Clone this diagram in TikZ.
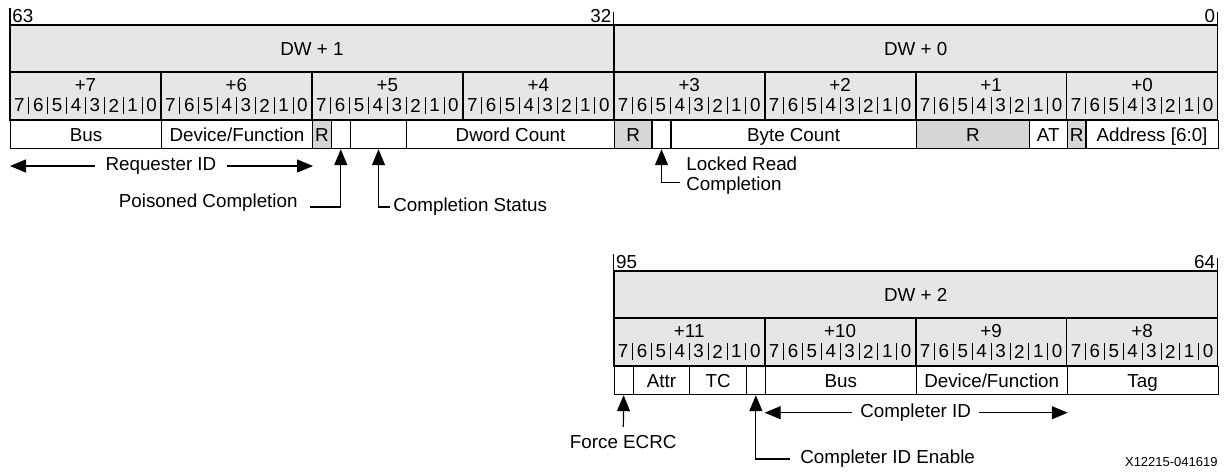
\documentclass[tikz,border=0pt]{standalone}
\usepackage{fontspec}
\setmainfont{Liberation Sans}
\usetikzlibrary{arrows.meta}

\definecolor{hdrgray}{HTML}{E6E6E6}
\definecolor{rsvgray}{HTML}{D6D6D6}
\newcommand{\bitx}[1]{(10+(63-(#1))*18.867)}
\newcommand{\bw}{9.4335pt}
\newcommand{\txtsize}{\fontsize{9.4}{10}\selectfont}

\begin{document}
\begin{tikzpicture}[x=0.5pt,y=-0.5pt,font=\txtsize,
    hdr/.style={draw,line width=0.9pt,fill=hdrgray},
    tick/.style={line width=0.6pt},
    bitsep/.style={line width=0.4pt},
    fld/.style={draw,line width=0.6pt,fill=white,anchor=north west,minimum height=14pt,inner sep=0pt,text height=6.7pt,text depth=0pt},
    rsv/.style={fld,fill=rsvgray},
    arr/.style={line width=0.6pt,-{Triangle[length=8pt,width=6.5pt]}}]
    \useasboundingbox (0,0) rectangle (1230,472);

    % Bit numbers on top
    \draw[tick] ({\bitx{63}},8) -- ({\bitx{63}},25);
    \draw[tick] ({\bitx{31}},12) -- ({\bitx{31}},25);
    \draw[tick] ({\bitx{-1}},12) -- ({\bitx{-1}},25);
    \node[anchor=south west,inner sep=1pt] (n63) at ({\bitx{63}},25) {63};
    \node[anchor=south east,inner sep=1pt] (n32) at ({\bitx{31}},25) {32};
    \node[anchor=south east,inner sep=1pt] (n0) at ({\bitx{-1}},25) {0};

    % DW + 1, DW + 0
    \draw[hdr] ({\bitx{63}},25) rectangle ({\bitx{31}},72);
    \draw[hdr] ({\bitx{31}},25) rectangle ({\bitx{-1}},72);
    \node (dw1) at ({\bitx{47}},49) {DW + 1};
    \node (dw0) at ({\bitx{15}},49) {DW + 0};

    % Bytes
    \foreach \k/\lab in {0/+7,1/+6,2/+5,3/+4,4/+3,5/+2,6/+1,7/+0}{
        \draw[hdr] ({10+8*\k*18.867},72) rectangle ({10+8*(\k+1)*18.867},120);
        \node (byte\k) at ({10+(8*\k+4)*18.867},85) {\lab};
        \foreach \j in {1,...,7}
            \draw[bitsep] ({10+(8*\k+\j)*18.867},97) -- ++(0,17);
        \foreach \j in {0,...,7}
            \node (bit\k-\j) at ({10+(8*\k+\j+0.5)*18.867},105.5) {\the\numexpr7-\j\relax};
    }

    % Fields
    \node[fld,minimum width=8*\bw] (bus) at ({\bitx{63}},120) {Bus};
    \node[fld,minimum width=8*\bw] (devfn) at ({\bitx{55}},120) {Device/Function};
    \node[rsv,minimum width=\bw] (rsv47) at ({\bitx{47}},120) {R};
    \node[fld,minimum width=\bw] (poison) at ({\bitx{46}},120) {};
    \node[fld,minimum width=3*\bw] (cplstat) at ({\bitx{45}},120) {};
    \node[fld,minimum width=11*\bw] (dwcnt) at ({\bitx{42}},120) {Dword Count};
    \node[rsv,minimum width=2*\bw] (rsv31) at ({\bitx{31}},120) {R};
    \node[fld,minimum width=\bw] (locked) at ({\bitx{29}},120) {};
    \node[fld,minimum width=13*\bw] (bytecnt) at ({\bitx{28}},120) {Byte Count};
    \node[rsv,minimum width=6*\bw] (rsv15) at ({\bitx{15}},120) {R};
    \node[fld,minimum width=2*\bw] (atfld) at ({\bitx{9}},120) {AT};
    \node[rsv,minimum width=\bw] (rsv7) at ({\bitx{7}},120) {R};
    \node[fld,minimum width=7*\bw] (addr) at ({\bitx{6}},120) {Address [6:0]};

    % Labels
    \node[inner sep=5pt] (reqid) at ({\bitx{55}},166) {Requester ID};
    \draw[arr] (reqid.west) -- (reqid.west -| bus.south west);
    \draw[arr] (reqid.east) -- (reqid.east -| devfn.south east);

    \node[anchor=base east,inner sep=0pt] (poislab) at (298,207) {Poisoned Completion};
    \draw[arr] ([xshift=6pt]poislab.base east) -| (poison.south);

    \node[anchor=west,inner sep=1.5pt] (cslab) at (390,207) {Completion Status};
    \draw[arr] (cslab.west) -| (cplstat.south);

    \node[anchor=north west,inner sep=3pt,align=left] (lrlab) at (680,150) {Locked Read\\Completion};
    \draw[arr] ([yshift=-3.5pt]lrlab.west) -| (locked.south);

    % DW + 2
    \begin{scope}[shift={(0,246)}]
        \draw[tick] ({\bitx{31}},8) -- ({\bitx{31}},25);
        \draw[tick] ({\bitx{-1}},12) -- ({\bitx{-1}},25);
        \node[anchor=south west,inner sep=1pt] (n95) at ({\bitx{31}},25) {95};
        \node[anchor=south east,inner sep=1pt] (n64) at ({\bitx{-1}},25) {64};

        \draw[hdr] ({\bitx{31}},25) rectangle ({\bitx{-1}},72);
        \node (dw2) at ({\bitx{15}},49) {DW + 2};

        \foreach \k/\lab in {4/+11,5/+10,6/+9,7/+8}{
            \draw[hdr] ({10+8*\k*18.867},72) rectangle ({10+8*(\k+1)*18.867},120);
            \node (bbyte\k) at ({10+(8*\k+4)*18.867},85) {\lab};
            \foreach \j in {1,...,7}
                \draw[bitsep] ({10+(8*\k+\j)*18.867},97) -- ++(0,17);
            \foreach \j in {0,...,7}
                \node (bbit\k-\j) at ({10+(8*\k+\j+0.5)*18.867},105.5) {\the\numexpr7-\j\relax};
        }

        \node[fld,minimum width=\bw] (fecrcbit) at ({\bitx{31}},120) {};
        \node[fld,minimum width=3*\bw] (attr) at ({\bitx{30}},120) {Attr};
        \node[fld,minimum width=3*\bw] (tc) at ({\bitx{27}},120) {TC};
        \node[fld,minimum width=\bw] (cidebit) at ({\bitx{24}},120) {};
        \node[fld,minimum width=8*\bw] (cplbus) at ({\bitx{23}},120) {Bus};
        \node[fld,minimum width=8*\bw] (cpldevfn) at ({\bitx{15}},120) {Device/Function};
        \node[fld,minimum width=8*\bw] (tag) at ({\bitx{7}},120) {Tag};

        \node[inner sep=4pt] (cplid) at ({\bitx{15}},166.7) {Completer ID};
        \draw[arr] (cplid.west) -- (cplid.west -| cplbus.south west);
        \draw[arr] (cplid.east) -- (cplid.east -| cpldevfn.south east);

        \node[inner sep=4pt] (fecrc) at ({\bitx{31}+9.43},196) {Force ECRC};
        \draw[arr] (fecrc) -- (fecrcbit);

        \node[anchor=west,inner sep=5pt] (cidelab) at (790,213) {Completer ID Enable};
        \draw[arr] (cidelab.west) -| (cidebit.south);
    \end{scope}

    \node[anchor=east,inner sep=0pt,font=\fontsize{6.5}{7}\selectfont] (docid) at (1218,461.7) {X12215-041619};
\end{tikzpicture}
\end{document}
